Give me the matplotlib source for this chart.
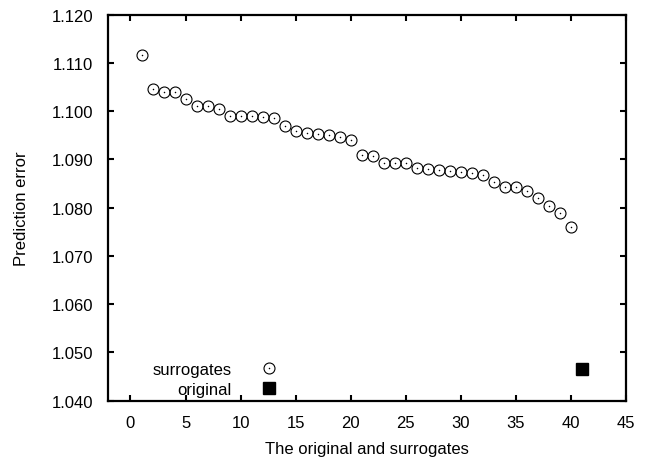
import numpy as np
import matplotlib
matplotlib.use("Agg")
import matplotlib.pyplot as plt

# Prediction error of each surrogate (sorted) and of the original series
surrogate_idx = np.arange(1, 41)
surrogate_err = [
    1.1117, 1.1046, 1.1039, 1.1039, 1.1026, 1.1011, 1.1010, 1.1005, 1.0990, 1.0991,
    1.0991, 1.0987, 1.0985, 1.0970, 1.0958, 1.0954, 1.0952, 1.0950, 1.0947, 1.0941,
    1.0909, 1.0908, 1.0893, 1.0892, 1.0892, 1.0882, 1.0880, 1.0878, 1.0875, 1.0873,
    1.0872, 1.0868, 1.0853, 1.0843, 1.0843, 1.0835, 1.0821, 1.0804, 1.0788, 1.0759,
]
original_idx = [41]
original_err = [1.0466]

x_ticks = np.arange(0, 50, 5)
y_ticks = np.arange(1.040, 1.1201, 0.010)

plt.rcParams["font.family"] = ["Liberation Sans", "DejaVu Sans"]
plt.rcParams["font.size"] = 12

fig = plt.figure(figsize=(6.55, 4.64), dpi=100)
ax = fig.add_axes([0.1656, 0.1343, 0.7901, 0.8319])

# open circles with a small dot in the middle
circ, = ax.plot(surrogate_idx, surrogate_err, linestyle="none", marker="o",
                markersize=7.9, markerfacecolor="none", markeredgecolor="black",
                markeredgewidth=0.8)
dot, = ax.plot(surrogate_idx, surrogate_err, linestyle="none", marker="o",
               markersize=1.1, color="black", markeredgewidth=0)
sq, = ax.plot(original_idx, original_err, linestyle="none", marker="s",
              markersize=8.2, color="black")

ax.set_xlim(-2, 45)
ax.set_ylim(1.040, 1.120)
ax.set_xticks(x_ticks)
ax.set_yticks(y_ticks)
ax.set_yticklabels([f"{v:.3f}" for v in y_ticks])
ax.tick_params(direction="in", top=True, right=True, length=4, width=1.5)
ax.tick_params(axis="x", pad=10)
ax.tick_params(axis="y", pad=11)

for s in ax.spines.values():
    s.set_linewidth(1.6)

ax.set_xlabel("The original and surrogates", labelpad=8)
ax.set_ylabel("Prediction error", labelpad=16)

# key with labels on the left and symbols on the right
ax.legend([(circ, dot), sq], ["surrogates", "original"], markerfirst=False,
          frameon=False, loc="lower right", bbox_to_anchor=(0.350, 0.010),
          borderpad=0, borderaxespad=0, handlelength=2.5, handletextpad=1.0,
          labelspacing=0.3)

fig.savefig("out.png", dpi=100)
